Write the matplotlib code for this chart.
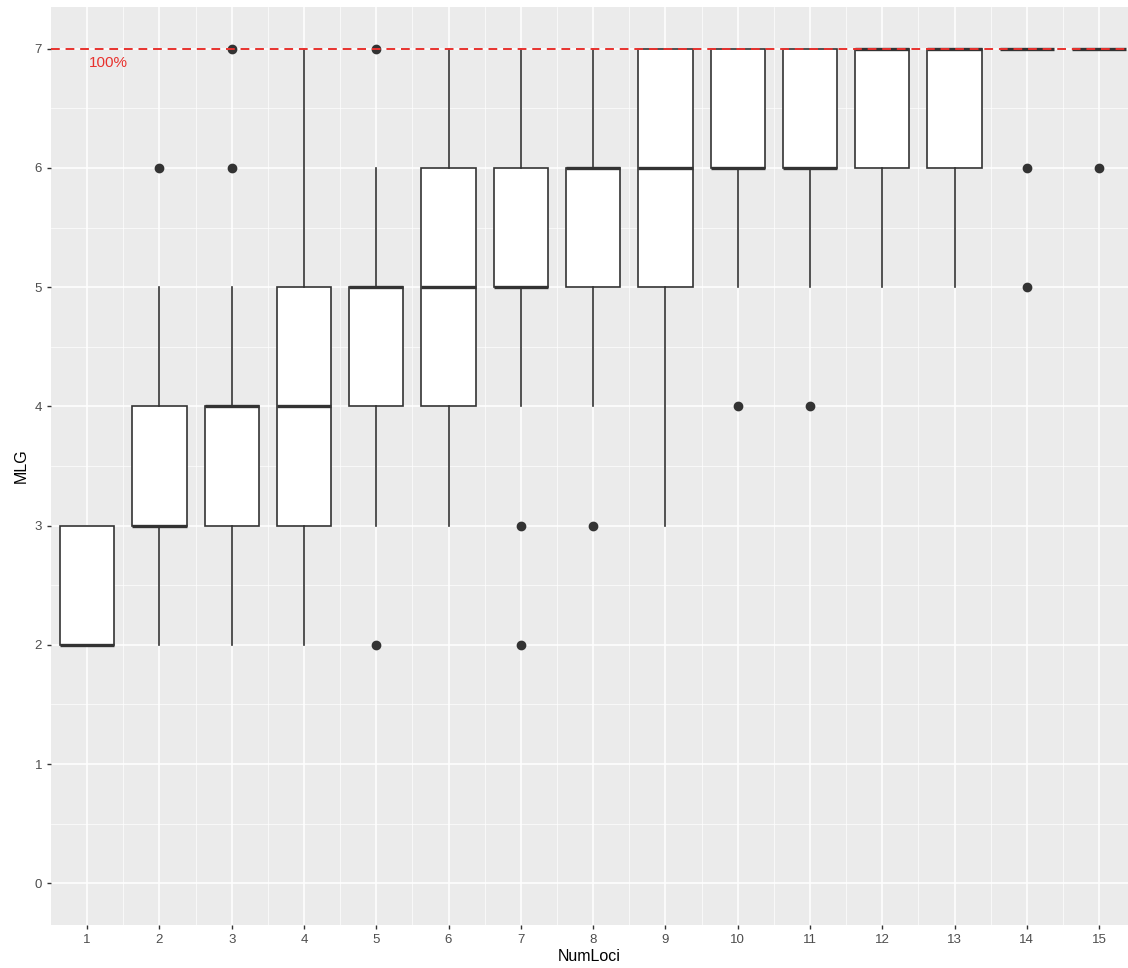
# MLG by number of loci - boxplot in ggplot style
import numpy as np
import matplotlib
matplotlib.use("Agg")
import matplotlib.pyplot as plt

plt.rcParams['font.family'] = ['Liberation Sans', 'DejaVu Sans']

# box statistics
num_loci = list(range(1, 16))
whislo = [2, 2, 2, 2, 3, 3, 4, 4, 3, 5, 5, 5, 5, 7, 7]
q1     = [2, 3, 3, 3, 4, 4, 5, 5, 5, 6, 6, 6, 6, 7, 7]
med    = [2, 3, 4, 4, 5, 5, 5, 6, 6, 6, 6, 7, 7, 7, 7]
q3     = [3, 4, 4, 5, 5, 6, 6, 6, 7, 7, 7, 7, 7, 7, 7]
whishi = [3, 5, 5, 7, 6, 7, 7, 7, 7, 7, 7, 7, 7, 7, 7]
fliers = [[], [6], [6, 7], [], [2, 7], [], [2, 3], [3], [], [4], [4], [], [], [5, 6], [6]]

max_mlg = 7

stats = []
for i in range(len(num_loci)):
    stats.append({"whislo": whislo[i], "q1": q1[i], "med": med[i], "q3": q3[i],
                  "whishi": whishi[i], "fliers": fliers[i], "label": str(num_loci[i])})

fig = plt.figure(figsize=(11.28, 9.68), dpi=100)
ax = fig.add_axes([51/1128, 43/968, 1 - 51/1128, (925-7)/968])
ax.set_facecolor("#EBEBEB")

ax.bxp(stats, positions=num_loci, widths=0.75, showcaps=False, patch_artist=True,
       boxprops=dict(facecolor="white", edgecolor="#333333", linewidth=1.2),
       medianprops=dict(color="#333333", linewidth=2.4, solid_capstyle="butt"),
       whiskerprops=dict(color="#333333", linewidth=1.2),
       flierprops=dict(marker="o", markerfacecolor="#333333", markeredgecolor="#333333",
                       markersize=6))

# 100% reference line
ax.axhline(max_mlg, color="#E8322E", linestyle=(0, (4.5, 3)), linewidth=1.4, zorder=5)
ax.text(1.3, max_mlg - 0.12, "100%", color="#E8322E", fontsize=11,
        ha="center", va="center")

ax.set_xlim(0.5, 15.4)
ax.set_ylim(-0.35, 7.35)
ax.set_xticks(num_loci)
ax.set_xticklabels([str(n) for n in num_loci])
ax.set_yticks(range(0, 8))
ax.set_xticks(np.arange(1.5, 15.5, 1), minor=True)
ax.set_yticks(np.arange(0.5, 7.5, 1), minor=True)

ax.grid(which="major", color="white", linewidth=1.1)
ax.grid(which="minor", color="white", linewidth=0.5)
ax.set_axisbelow(True)
for s in ax.spines.values():
    s.set_visible(False)

ax.tick_params(which="major", length=3, width=1, color="#333333",
               labelcolor="#4D4D4D", labelsize=9.5)
ax.tick_params(which="minor", length=0)

ax.set_xlabel("NumLoci", fontsize=11.5, labelpad=2)
ax.set_ylabel("MLG", fontsize=11.5, labelpad=4)

fig.savefig("out.png", dpi=100)
